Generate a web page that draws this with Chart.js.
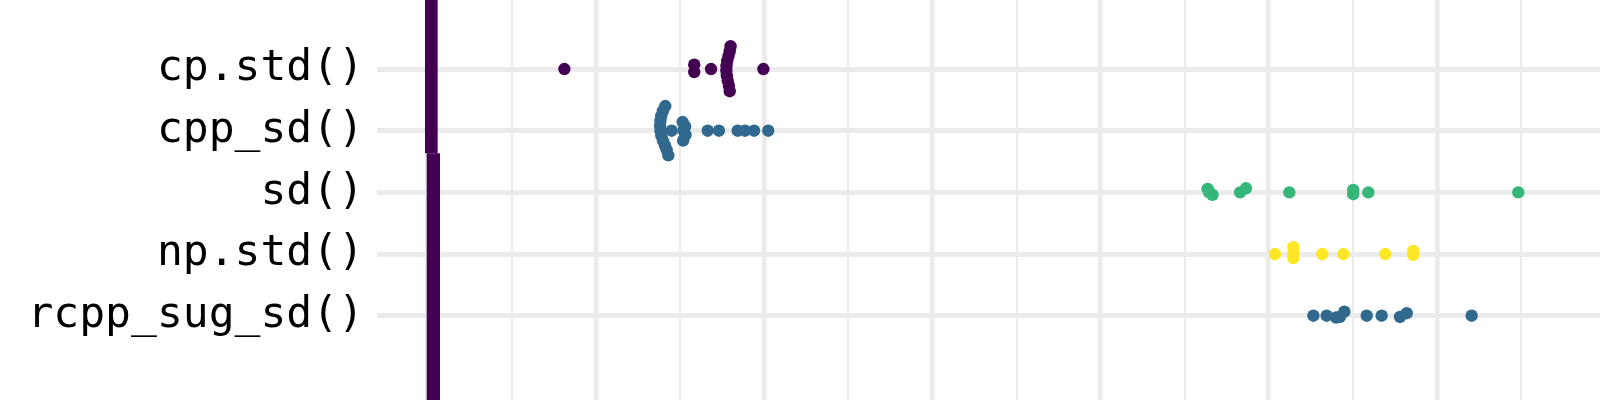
<!DOCTYPE html>
<html>
<head>
<meta charset="utf-8">
<script src="https://cdn.jsdelivr.net/npm/chart.js@4/dist/chart.umd.min.js"></script>
<style>
  html, body { margin: 0; padding: 0; background: #fff; }
  #wrap { width: 1600px; height: 400px; position: relative; }
</style>
</head>
<body>
<div id="wrap"><canvas id="chart"></canvas></div>
<script>
// categories, top to bottom
const labels = ['cp.std()', 'cpp_sd()', 'sd()', 'np.std()', 'rcpp_sug_sd()'];
const colors = ['#440154', '#31688E', '#35B779', '#FDE725', '#31688E'];

// x values per function, with small vertical jitter (in row units)
const cpX  = [0.812, 1.584, 1.584, 1.684, 1.80, 1.795, 1.788, 1.78, 1.776, 1.775, 1.778, 1.783, 1.79, 1.795, 1.995];
const cpDy = [0, -0.07, 0.05, 0, -0.37, -0.29, -0.21, -0.13, -0.05, 0.03, 0.11, 0.19, 0.27, 0.36, 0];

const cppX  = [1.412, 1.398, 1.388, 1.383, 1.381, 1.383, 1.388, 1.398, 1.410, 1.420, 1.430, 1.450, 1.515, 1.530, 1.520, 1.532, 1.518, 1.664, 1.731, 1.842, 1.886, 1.940, 2.024];
const cppDy = [-0.40, -0.32, -0.24, -0.16, -0.08, 0, 0.08, 0.16, 0.24, 0.31, 0.40, 0, -0.14, -0.07, 0, 0.07, 0.16, 0, 0, 0, 0, 0, 0];

const sdX  = [4.636, 4.645, 4.665, 4.829, 4.864, 5.122, 5.502, 5.502, 5.592, 6.483];
const sdDy = [-0.055, 0, 0.04, 0, -0.066, 0, -0.04, 0.03, 0, 0];

const npX  = [5.037, 5.146, 5.146, 5.146, 5.318, 5.443, 5.693, 5.859, 5.859];
const npDy = [0, -0.11, -0.025, 0.065, 0, 0, 0, -0.05, 0.015];

const rcppX  = [5.265, 5.344, 5.400, 5.423, 5.449, 5.582, 5.671, 5.780, 5.820, 6.206];
const rcppDy = [0, 0, 0.03, 0.02, -0.065, 0, 0, 0.02, -0.04, 0];

// the thick purple rule on the left (two pieces, slightly offset)
const ruleX = [0.021, 0.033];
const ruleBreak = 1.367;

function pts(xs, dys, row){
    return xs.map((x, i) => ({x: x, y: row + dys[i]}));
}

const series = [cpX, cppX, sdX, npX, rcppX];
const jitter = [cpDy, cppDy, sdDy, npDy, rcppDy];

let datasets = [];
datasets.push({
    type: 'line', data: [{x: ruleX[0], y: -2}, {x: ruleX[0], y: ruleBreak}],
    borderColor: '#440154', borderWidth: 12.7, pointRadius: 0, borderCapStyle: 'butt'
});
datasets.push({
    type: 'line', data: [{x: ruleX[1], y: ruleBreak}, {x: ruleX[1], y: 7}],
    borderColor: '#440154', borderWidth: 13.3, pointRadius: 0, borderCapStyle: 'butt'
});
for (let i = 0; i < series.length; i++){
    datasets.push({
        type: 'scatter',
        label: labels[i],
        data: pts(series[i], jitter[i], i),
        backgroundColor: colors[i],
        borderWidth: 0,
        pointRadius: 6.2,
        pointHoverRadius: 6.2
    });
}

const ctx = document.getElementById('chart');
new Chart(ctx, {
    data: { datasets: datasets },
    options: {
        responsive: true,
        maintainAspectRatio: false,
        animation: false,
        layout: { padding: 0, autoPadding: false },
        plugins: { legend: { display: false }, tooltip: { enabled: false } },
        scales: {
            x: {
                type: 'linear',
                min: -0.302,
                max: 6.969,
                border: { display: false },
                grid: {
                    color: '#EBEBEB',
                    drawTicks: false,
                    lineWidth: c => (c.tick && Math.abs(c.tick.value % 1) < 1e-6) ? 4.7 : 2
                },
                ticks: { display: false },
                afterBuildTicks: s => {
                    let t = [];
                    for (let v = 0; v <= 7; v += 0.5) t.push({value: v});
                    s.ticks = t;
                },
                afterFit: s => {
                    s.height = 0;
                    s.paddingLeft = 0; s.paddingRight = 0;
                    s.paddingTop = 0; s.paddingBottom = 0;
                }
            },
            y: {
                type: 'linear',
                reverse: true,
                min: -1.119,
                max: 5.367,
                border: { display: false },
                grid: { color: '#EBEBEB', lineWidth: 5, drawTicks: false },
                ticks: {
                    padding: 13,
                    color: '#000',
                    font: { family: 'DejaVu Sans Mono', size: 43 },
                    callback: v => labels[v]
                },
                afterBuildTicks: s => {
                    s.ticks = labels.map((l, i) => ({value: i}));
                },
                afterFit: s => {
                    s.width = 377;
                    s.paddingTop = 0; s.paddingBottom = 0;
                    s.paddingLeft = 0; s.paddingRight = 0;
                }
            }
        }
    }
});
</script>
</body>
</html>
